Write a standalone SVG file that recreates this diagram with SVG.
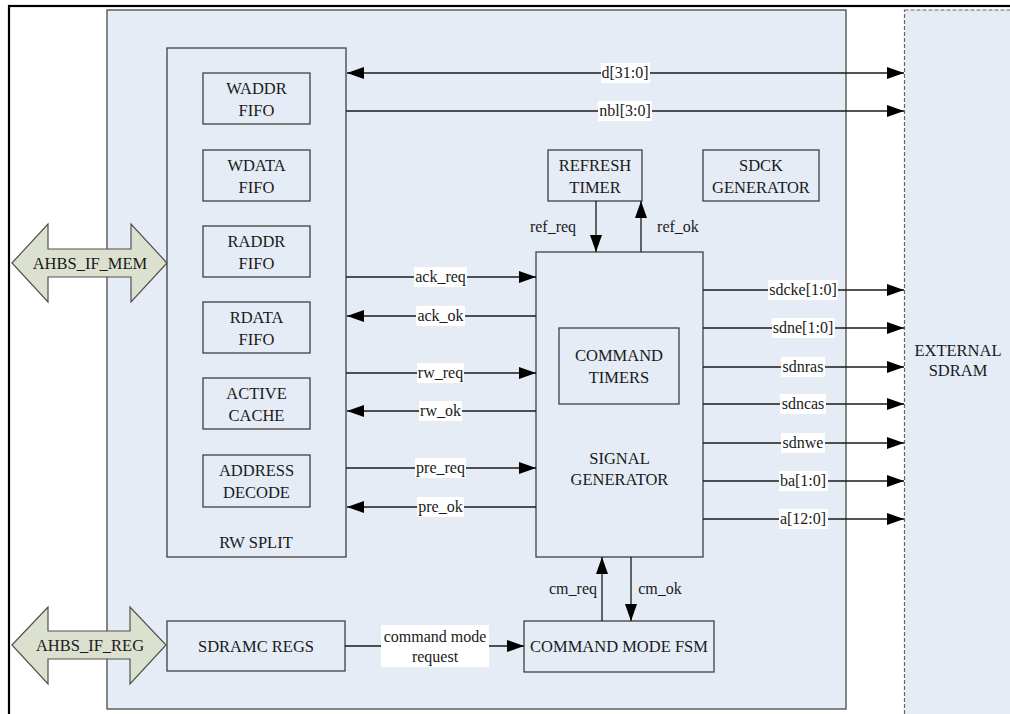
<svg xmlns="http://www.w3.org/2000/svg" width="1010" height="714" viewBox="0 0 1010 714">
<style>
text{font-family:"Liberation Serif","Times New Roman",serif;fill:#1a1a1a;text-anchor:middle}
.lbl{font-size:16.5px}
.sig{font-size:16px}
.box{fill:#E5ECF6;stroke:#404040;stroke-width:1.3}
.wire{stroke:#1a1a1a;stroke-width:1.3;fill:none}
.bg{fill:#ffffff}
.bus{fill:#DCE1CF;stroke:#505050;stroke-width:1.2}
</style>
<defs>
<marker id="ah" viewBox="0 0 17 12" refX="17" refY="6" markerWidth="17" markerHeight="12" markerUnits="userSpaceOnUse" orient="auto-start-reverse">
<path d="M0,0 L17,6 L0,12 z" fill="#000"/>
</marker>
</defs>
<rect x="0" y="0" width="1010" height="714" fill="#ffffff"/>
<rect x="9" y="6" width="1100" height="800" fill="none" stroke="#000" stroke-width="2.2"/>

<g id="sdramc">
<rect x="107" y="10" width="739" height="699" fill="#E5ECF6" stroke="#4a4a4a" stroke-width="1.3"/>
</g>
<g id="external-sdram">
<rect x="904.5" y="10" width="200" height="800" fill="#E5ECF6" stroke="#666" stroke-width="1.2" stroke-dasharray="4,2"/>
<text class="lbl" x="958" y="356">EXTERNAL</text>
<text class="lbl" x="958" y="376">SDRAM</text>
</g>

<g id="ahbs-if-mem">
<path class="bus" d="M12,263 L48,224 L48,249 L131,249 L131,224 L167,263 L131,302 L131,277 L48,277 L48,302 Z"/>
<text class="lbl" x="90" y="269">AHBS_IF_MEM</text>
</g>
<g id="ahbs-if-reg">
<path class="bus" d="M12,645 L48,607 L48,631 L130,631 L130,607 L166,645 L130,684 L130,659 L48,659 L48,684 Z"/>
<text class="lbl" x="90" y="651">AHBS_IF_REG</text>
</g>

<g id="rw-split">
<rect class="box" x="167" y="48" width="179" height="509"/>
<text class="lbl" x="256" y="548">RW SPLIT</text>
</g>
<g id="waddr-fifo">
<rect class="box" x="203" y="73" width="107" height="51"/>
<text class="lbl" x="256.5" y="94">WADDR</text><text class="lbl" x="256.5" y="116">FIFO</text>
</g>
<g id="wdata-fifo">
<rect class="box" x="203" y="150" width="107" height="51"/>
<text class="lbl" x="256.5" y="171">WDATA</text><text class="lbl" x="256.5" y="193">FIFO</text>
</g>
<g id="raddr-fifo">
<rect class="box" x="203" y="226" width="107" height="51"/>
<text class="lbl" x="256.5" y="247">RADDR</text><text class="lbl" x="256.5" y="269">FIFO</text>
</g>
<g id="rdata-fifo">
<rect class="box" x="203" y="302" width="107" height="51"/>
<text class="lbl" x="256.5" y="323">RDATA</text><text class="lbl" x="256.5" y="345">FIFO</text>
</g>
<g id="active-cache">
<rect class="box" x="203" y="378" width="107" height="51"/>
<text class="lbl" x="256.5" y="399">ACTIVE</text><text class="lbl" x="256.5" y="421">CACHE</text>
</g>
<g id="address-decode">
<rect class="box" x="203" y="455" width="107" height="52"/>
<text class="lbl" x="256.5" y="476">ADDRESS</text><text class="lbl" x="256.5" y="498">DECODE</text>
</g>

<g id="refresh-timer">
<rect class="box" x="548" y="150" width="94" height="51"/>
<text class="lbl" x="595" y="171">REFRESH</text><text class="lbl" x="595" y="193">TIMER</text>
</g>
<g id="sdck-generator">
<rect class="box" x="703" y="150" width="116" height="51"/>
<text class="lbl" x="761" y="171">SDCK</text><text class="lbl" x="761" y="193">GENERATOR</text>
</g>
<g id="signal-generator">
<rect class="box" x="536" y="252" width="167" height="305"/>
<text class="lbl" x="619.5" y="464">SIGNAL</text><text class="lbl" x="619.5" y="485">GENERATOR</text>
</g>
<g id="command-timers">
<rect class="box" x="559" y="328" width="120" height="76"/>
<text class="lbl" x="619" y="361">COMMAND</text><text class="lbl" x="619" y="383">TIMERS</text>
</g>
<g id="sdramc-regs">
<rect class="box" x="167" y="621" width="178" height="50"/>
<text class="lbl" x="256" y="652">SDRAMC REGS</text>
</g>
<g id="command-mode-fsm">
<rect class="box" x="524" y="621" width="190" height="51"/>
<text class="lbl" x="619" y="652">COMMAND MODE FSM</text>
</g>

<g id="connectors">
<line class="wire" x1="347" y1="73" x2="904" y2="73" marker-start="url(#ah)" marker-end="url(#ah)"/>
<line class="wire" x1="346" y1="111" x2="904" y2="111" marker-end="url(#ah)"/>
<line class="wire" x1="346" y1="277" x2="536" y2="277" marker-end="url(#ah)"/>
<line class="wire" x1="536" y1="316" x2="347" y2="316" marker-end="url(#ah)"/>
<line class="wire" x1="346" y1="373" x2="536" y2="373" marker-end="url(#ah)"/>
<line class="wire" x1="536" y1="411" x2="347" y2="411" marker-end="url(#ah)"/>
<line class="wire" x1="346" y1="468" x2="536" y2="468" marker-end="url(#ah)"/>
<line class="wire" x1="536" y1="507" x2="347" y2="507" marker-end="url(#ah)"/>
<line class="wire" x1="596" y1="201" x2="596" y2="252" marker-end="url(#ah)"/>
<line class="wire" x1="641" y1="252" x2="641" y2="201" marker-end="url(#ah)"/>
<line class="wire" x1="703" y1="290" x2="904" y2="290" marker-end="url(#ah)"/>
<line class="wire" x1="703" y1="328" x2="904" y2="328" marker-end="url(#ah)"/>
<line class="wire" x1="703" y1="367" x2="904" y2="367" marker-end="url(#ah)"/>
<line class="wire" x1="703" y1="404" x2="904" y2="404" marker-end="url(#ah)"/>
<line class="wire" x1="703" y1="443" x2="904" y2="443" marker-end="url(#ah)"/>
<line class="wire" x1="703" y1="481" x2="904" y2="481" marker-end="url(#ah)"/>
<line class="wire" x1="703" y1="519" x2="904" y2="519" marker-end="url(#ah)"/>
<line class="wire" x1="602" y1="621" x2="602" y2="557" marker-end="url(#ah)"/>
<line class="wire" x1="631" y1="557" x2="631" y2="621" marker-end="url(#ah)"/>
<line class="wire" x1="345" y1="646" x2="524" y2="646" marker-end="url(#ah)"/>

<rect class="bg" x="601" y="63" width="49" height="20"/><text class="sig" x="625" y="78">d[31:0]</text>
<rect class="bg" x="598" y="101" width="54" height="20"/><text class="sig" x="625" y="116">nbl[3:0]</text>
<rect class="bg" x="414" y="267" width="53" height="20"/><text class="sig" x="440.5" y="282">ack_req</text>
<rect class="bg" x="416" y="306" width="49" height="20"/><text class="sig" x="440.5" y="321">ack_ok</text>
<rect class="bg" x="417" y="363" width="47" height="20"/><text class="sig" x="440.5" y="378">rw_req</text>
<rect class="bg" x="419" y="401" width="43" height="20"/><text class="sig" x="440.5" y="416">rw_ok</text>
<rect class="bg" x="415" y="458" width="51" height="20"/><text class="sig" x="440.5" y="473">pre_req</text>
<rect class="bg" x="417" y="497" width="47" height="20"/><text class="sig" x="440.5" y="512">pre_ok</text>
<rect class="bg" x="768" y="280" width="70" height="20"/><text class="sig" x="803" y="295">sdcke[1:0]</text>
<rect class="bg" x="772" y="318" width="63" height="20"/><text class="sig" x="803" y="333">sdne[1:0]</text>
<rect class="bg" x="781" y="357" width="44" height="20"/><text class="sig" x="803" y="372">sdnras</text>
<rect class="bg" x="780" y="394" width="46" height="20"/><text class="sig" x="803" y="409">sdncas</text>
<rect class="bg" x="781" y="433" width="44" height="20"/><text class="sig" x="803" y="448">sdnwe</text>
<rect class="bg" x="779" y="471" width="49" height="20"/><text class="sig" x="803" y="486">ba[1:0]</text>
<rect class="bg" x="779" y="509" width="49" height="20"/><text class="sig" x="803" y="524">a[12:0]</text>
<text class="sig" x="553" y="232">ref_req</text>
<text class="sig" x="678" y="232">ref_ok</text>
<text class="sig" x="573" y="594">cm_req</text>
<text class="sig" x="660" y="594">cm_ok</text>
<rect class="bg" x="381" y="625" width="108" height="42"/>
<text class="sig" x="435" y="642">command mode</text>
<text class="sig" x="435" y="662">request</text>
</g>
</svg>
